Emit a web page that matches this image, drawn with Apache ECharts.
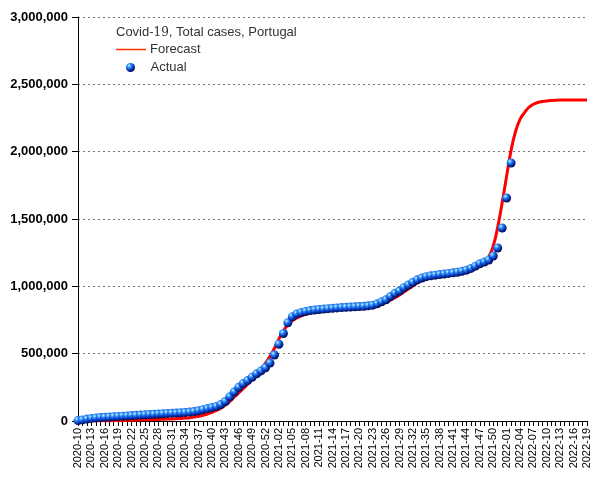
<!DOCTYPE html>
<html>
<head>
<meta charset="utf-8">
<script src="https://cdn.jsdelivr.net/npm/echarts@6/dist/echarts.min.js"></script>
<style>html,body{margin:0;padding:0;background:#fff}#c{width:605px;height:480px}</style>
</head>
<body>
<div id="c"></div>
<script>
var weeks = [
"2020-10","2020-11","2020-12","2020-13","2020-14","2020-15","2020-16","2020-17","2020-18","2020-19",
"2020-20","2020-21","2020-22","2020-23","2020-24","2020-25","2020-26","2020-27","2020-28","2020-29",
"2020-30","2020-31","2020-32","2020-33","2020-34","2020-35","2020-36","2020-37","2020-38","2020-39",
"2020-40","2020-41","2020-42","2020-43","2020-44","2020-45","2020-46","2020-47","2020-48","2020-49",
"2020-50","2020-51","2020-52","2020-53",
"2021-01","2021-02","2021-03","2021-04","2021-05","2021-06","2021-07","2021-08","2021-09","2021-10",
"2021-11","2021-12","2021-13","2021-14","2021-15","2021-16","2021-17","2021-18","2021-19","2021-20",
"2021-21","2021-22","2021-23","2021-24","2021-25","2021-26","2021-27","2021-28","2021-29","2021-30",
"2021-31","2021-32","2021-33","2021-34","2021-35","2021-36","2021-37","2021-38","2021-39","2021-40",
"2021-41","2021-42","2021-43","2021-44","2021-45","2021-46","2021-47","2021-48","2021-49","2021-50",
"2021-51","2021-52",
"2022-01","2022-02","2022-03","2022-04","2022-05","2022-06","2022-07","2022-08","2022-09","2022-10",
"2022-11","2022-12","2022-13","2022-14","2022-15","2022-16","2022-17","2022-18","2022-19"
];

var forecast = [
0,0,0,500,1000,1500,2000,2500,3000,3500,
4000,5000,6000,7000,8000,9000,10000,11000,12000,13000,
14000,15000,17000,19000,22000,25000,29000,35000,42000,52000,
64000,78000,95000,118000,145000,178000,208000,240000,274000,310000,
348000,388000,430000,480000,540000,610000,670000,715000,745000,765000,
780000,792000,802000,810000,817000,823000,829000,835000,842000,848000,
853000,858000,862000,865000,868000,871000,873000,876000,881000,888000,
898000,915000,935000,958000,980000,1002000,1025000,1042000,1056000,1066000,
1073000,1078000,1082000,1085000,1089000,1095000,1104000,1115000,1128000,1143000,
1160000,1183000,1220000,1300000,1440000,1620000,1820000,2010000,2150000,2240000,
2290000,2330000,2352000,2365000,2372000,2377000,2380000,2382000,2383000,2383000,
2383000,2383000,2383000,2383000,2383000
];

var actual = [
3000,8000,14000,19000,23000,26000,28000,30000,32000,34000,
36000,38000,40000,42000,44000,46000,48000,50000,52000,54000,
56000,58000,59000,61000,63000,66000,70000,76000,84000,92000,
100000,108000,122000,145000,180000,215000,250000,278000,300000,325000,
350000,372000,395000,430000,490000,570000,650000,730000,775000,795000,
806000,814000,820000,824000,828000,831000,834000,837000,840000,842000,
844000,846000,848000,850000,852000,855000,860000,870000,885000,900000,
925000,948000,965000,990000,1010000,1030000,1048000,1062000,1072000,1078000,
1083000,1088000,1092000,1096000,1100000,1105000,1112000,1120000,1133000,1150000,
1168000,1180000,1195000,1225000,1285000,1433000,1656000,1916000
];

var yTicks = { min: 0, max: 3000000, interval: 500000 };

var sphere = new echarts.graphic.RadialGradient(0.35, 0.3, 0.75, [
  { offset: 0, color: '#d8f4ff' },
  { offset: 0.25, color: '#3a9cff' },
  { offset: 0.6, color: '#0a40c8' },
  { offset: 1, color: '#000038' }
]);

var chart = echarts.init(document.getElementById('c'), null, { renderer: 'canvas' });
chart.setOption({
  animation: false,
  backgroundColor: '#ffffff',
  title: {
    left: 111, top: 21,
    text: '{a|Covid-}{b|19}{a|, Total cases, Portugal}',
    textStyle: {
      fontWeight: 'normal',
      rich: {
        a: { fontFamily: 'Liberation Sans', fontSize: 13, fontWeight: 'normal', color: '#333' },
        b: { fontFamily: 'DejaVu Serif', fontSize: 12, fontWeight: 'normal', color: '#333' }
      }
    }
  },
  legend: [
    {
      data: [{ name: 'Forecast', icon: 'path://M0,0L30,0L30,1.5L0,1.5Z', itemStyle: { color: '#ff3000' } }],
      left: 116, top: 43, itemWidth: 30, itemHeight: 2, itemGap: 0,
      textStyle: { fontFamily: 'Liberation Sans', fontSize: 13, color: '#333', padding: [0, 0, 0, -1] },
      padding: 0
    },
    {
      data: [{ name: 'Actual', icon: 'circle' }],
      left: 126, top: 61, itemWidth: 30, itemHeight: 9, itemGap: 0,
      textStyle: { fontFamily: 'Liberation Sans', fontSize: 13, color: '#333', padding: [0, 0, 0, 0] },
      padding: 0
    }
  ],
  grid: { left: 78, right: 18, top: 17, bottom: 59, containLabel: false },
  xAxis: {
    type: 'category',
    data: weeks,
    boundaryGap: false,
    axisLine: { lineStyle: { color: '#000', width: 1 } },
    axisTick: { show: true, interval: 0, length: 5, lineStyle: { color: '#000' } },
    axisLabel: {
      interval: 2, rotate: 90, fontFamily: 'Liberation Sans', fontSize: 11, color: '#000', margin: 7,
      showMinLabel: true, showMaxLabel: true, hideOverlap: false
    },
    splitLine: { show: false }
  },
  yAxis: {
    type: 'value',
    min: yTicks.min, max: yTicks.max, interval: yTicks.interval,
    axisLine: { show: true, lineStyle: { color: '#000', width: 1 } },
    axisTick: { show: true, length: 6, lineStyle: { color: '#000' } },
    axisLabel: {
      fontFamily: 'Liberation Sans', fontSize: 13, fontWeight: 'bold', color: '#000', margin: 10,
      formatter: function (v) { return v.toLocaleString('en-US'); }
    },
    splitLine: { show: true, lineStyle: { color: '#777', type: [2, 3], width: 1 } }
  },
  series: [
    {
      name: 'Forecast', type: 'line', data: forecast, smooth: true, symbol: 'none',
      lineStyle: { color: '#ff0000', width: 3 }, itemStyle: { color: '#ff0000' }, z: 2
    },
    {
      name: 'Actual', type: 'scatter', data: actual, symbol: 'circle', symbolSize: 9,
      itemStyle: { color: sphere, opacity: 1 }, z: 3
    }
  ]
});
</script>
</body>
</html>
